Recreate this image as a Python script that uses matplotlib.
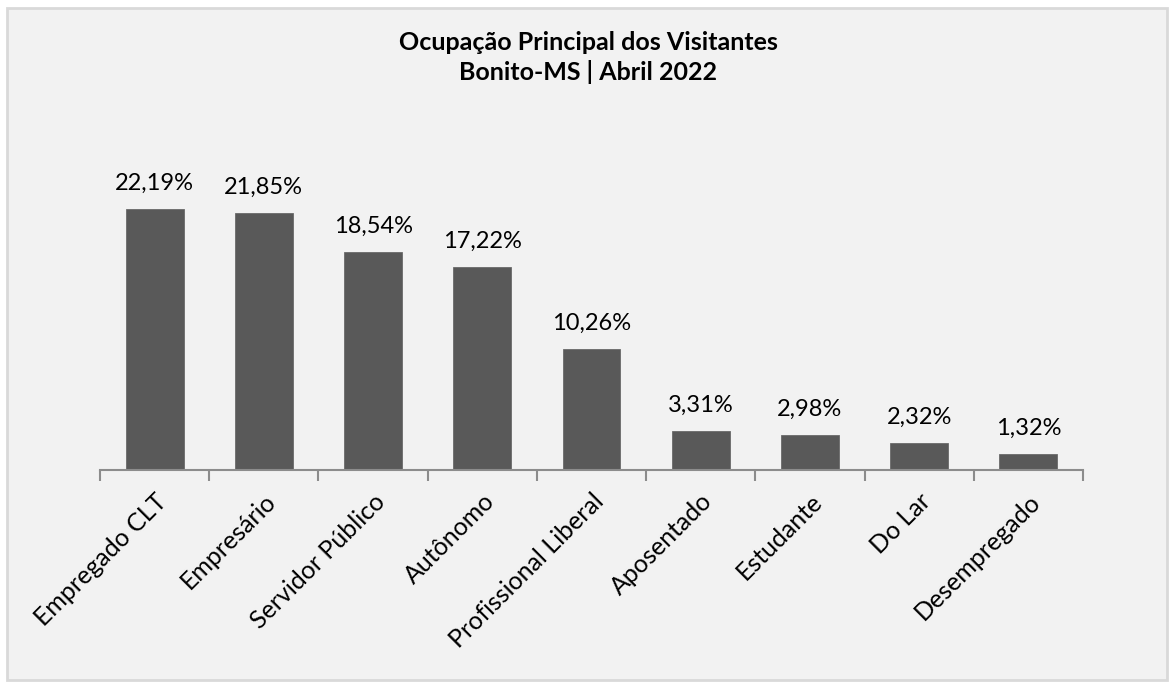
import numpy as np
import matplotlib.pyplot as plt
from matplotlib.patches import Rectangle

categorias = ['Empregado CLT', 'Empresário', 'Servidor Público', 'Autônomo',
              'Profissional Liberal', 'Aposentado', 'Estudante', 'Do Lar', 'Desempregado']
valores = [22.19, 21.85, 18.54, 17.22, 10.26, 3.31, 2.98, 2.32, 1.32]
rotulos = ['22,19%', '21,85%', '18,54%', '17,22%', '10,26%', '3,31%', '2,98%', '2,32%', '1,32%']

plt.rcParams['font.family'] = ['Lato', 'DejaVu Sans']

fig = plt.figure(figsize=(11.75, 6.88), dpi=100, facecolor='white')
# moldura do grafico (estilo excel)
fig.patches.append(Rectangle((7/1175, 8/688), 1160/1175, 672/688, transform=fig.transFigure,
                             facecolor='#f2f2f2', edgecolor='#d9d9d9', linewidth=2, zorder=-10))

ax = fig.add_axes([100/1175, 1 - 470/688, 983/1175, 294/688])
ax.set_facecolor('none')
x = np.arange(len(categorias))
ax.bar(x, valores, width=0.53, color='#595959', edgecolor='#6a6a6a', linewidth=0.6, zorder=2)

for xi, v, r in zip(x, valores, rotulos):
    ax.annotate(r, (xi, v), xytext=(0, 11), textcoords='offset points',
                ha='center', va='bottom', fontsize=17, color='black')

ax.set_xlim(-0.5, len(categorias) - 0.5)
ax.set_ylim(0, 25)
ax.set_yticks([])
for s in ['top', 'right', 'left']:
    ax.spines[s].set_visible(False)
ax.spines['bottom'].set_color('#8c8c8c')
ax.spines['bottom'].set_linewidth(1.5)

ax.set_xticks(np.arange(-0.5, len(categorias), 1))
ax.set_xticklabels([])
ax.tick_params(axis='x', length=8, width=1.5, color='#8c8c8c', direction='out')
ax.set_xticks(x, minor=True)
ax.set_xticklabels(categorias, minor=True, rotation=45, ha='right', rotation_mode='anchor',
                   fontsize=18)
ax.tick_params(axis='x', which='minor', length=0, pad=14)

fig.text(588/1175, 1 - 43/688, 'Ocupação Principal dos Visitantes', ha='center', va='center',
         fontsize=18, fontweight='bold')
fig.text(588/1175, 1 - 72/688, 'Bonito-MS | Abril 2022', ha='center', va='center',
         fontsize=18, fontweight='bold')

fig.savefig('out.png', dpi=100, facecolor='white')
